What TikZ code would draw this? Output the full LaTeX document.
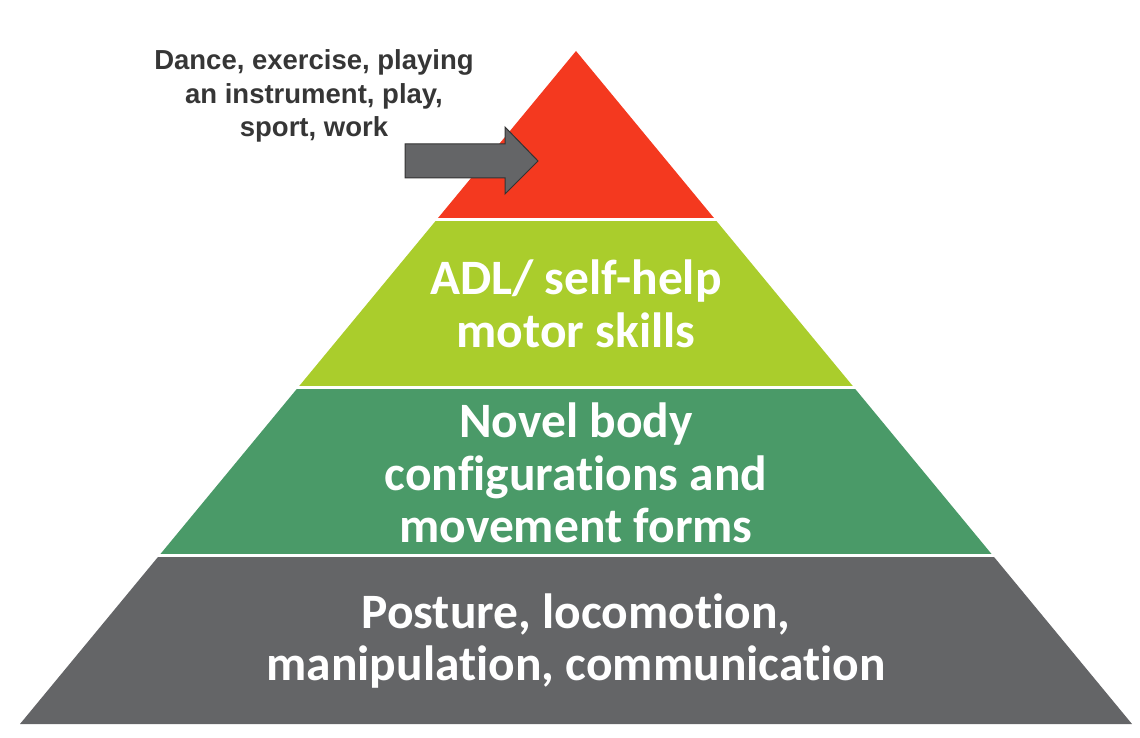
\documentclass[tikz,border=0pt]{standalone}
\usepackage{fontspec}
\setmainfont[Ligatures={NoCommon}]{Carlito}
\newfontfamily\arialfont{Liberation Sans}
\usetikzlibrary{calc}
\definecolor{pyrred}{HTML}{F4391F}
\definecolor{pyrlime}{HTML}{AACD2C}
\definecolor{pyrgreen}{HTML}{4A9A68}
\definecolor{pyrgray}{HTML}{646567}
\definecolor{notegray}{HTML}{363636}
\begin{document}
\begin{tikzpicture}[x=1pt,y=-1pt,
  layertext/.style={text=white,align=center,font=\bfseries\fontsize{49.5}{52.5}\selectfont,inner sep=0pt},
  notetext/.style={text=notegray,align=center,font=\arialfont\bfseries\fontsize{27.5}{33.5}\selectfont,inner sep=0pt},
  sep/.style={draw=white,line width=3pt}]
\useasboundingbox (0,0) rectangle (1140,738);
\coordinate (A) at (576,51);
\coordinate (BL) at (20,724);
\coordinate (BR) at (1132,724);
\coordinate (L1) at ($(A)!0.25!(BL)$);
\coordinate (R1) at ($(A)!0.25!(BR)$);
\coordinate (L2) at ($(A)!0.5!(BL)$);
\coordinate (R2) at ($(A)!0.5!(BR)$);
\coordinate (L3) at ($(A)!0.75!(BL)$);
\coordinate (R3) at ($(A)!0.75!(BR)$);
\fill[pyrred] (A) -- (L1) -- (R1) -- cycle;
\fill[pyrlime] (L1) -- (L2) -- (R2) -- (R1) -- cycle;
\fill[pyrgreen] (L2) -- (L3) -- (R3) -- (R2) -- cycle;
\fill[pyrgray] (L3) -- (BL) -- (BR) -- (R3) -- cycle;
\draw[sep] ($(L1)+(-5,0)$) -- ($(R1)+(5,0)$);
\draw[sep] ($(L2)+(-5,0)$) -- ($(R2)+(5,0)$);
\draw[sep] ($(L3)+(-5,0)$) -- ($(R3)+(5,0)$);
\node[layertext] (adl) at (576,304) {ADL/ self-help\\motor skills};
\node[layertext] (novel) at (576,473) {Novel body\\configurations and\\movement forms};
\node[layertext] (posture) at (576,641) {Posture, locomotion,\\manipulation, communication};
\node[notetext] (note) at (314,96) {Dance, exercise, playing\\an instrument, play,\\sport, work};
\draw[fill=pyrgray,draw=black!80,line width=1pt,line join=miter]
  (405,144) -- (505,144) -- (505,127) -- (538,161) -- (505,194) -- (505,178) -- (405,178) -- cycle;
\end{tikzpicture}
\end{document}
